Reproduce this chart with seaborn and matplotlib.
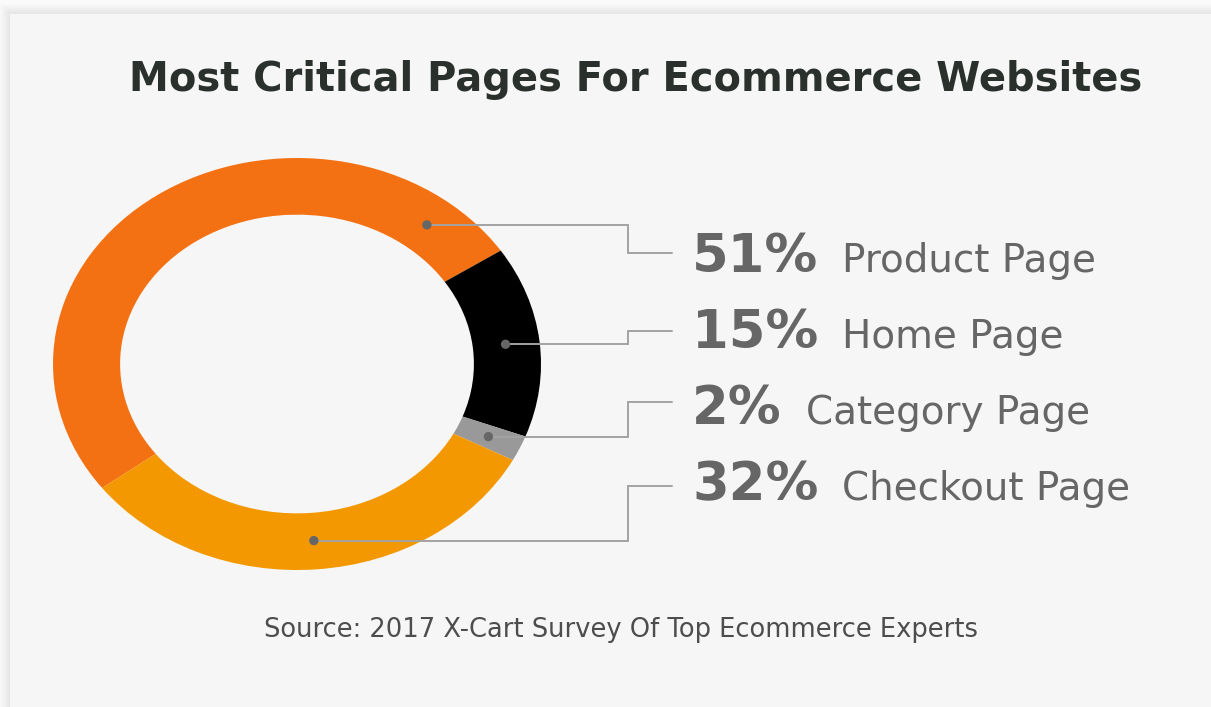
import numpy as np
import pandas as pd
import seaborn as sns
import matplotlib.pyplot as plt
from matplotlib.patches import Rectangle

# data
pages = ["Product Page", "Home Page", "Category Page", "Checkout Page"]
shares = [51, 15, 2, 32]
pct_labels = ["51%", "15%", "2%", "32%"]
colors = ["#f37112", "#000000", "#999999", "#f39800"]

title = "Most Critical Pages For Ecommerce Websites"
source = "Source: 2017 X-Cart Survey Of Top Ecommerce Experts"

W, H = 1211, 707

sns.set_theme(style="white")
plt.rcParams["font.family"] = ["DejaVu Sans"]

fig = plt.figure(figsize=(W / 100, H / 100), dpi=100)
fig.patch.set_facecolor("#fafafa")

# background card with a soft shadow
bg = fig.add_axes([0, 0, 1, 1], zorder=0)
bg.set_xlim(0, W)
bg.set_ylim(H, 0)
bg.axis("off")
for k in range(11):
    bg.add_patch(Rectangle((10 - k, 14 - k), W, H, facecolor="black", alpha=0.006, lw=0))
bg.add_patch(Rectangle((10, 14), W, H, facecolor="#f6f6f6", lw=0))

# donut, stretched horizontally like the original
ax = fig.add_axes([53 / W, (H - 570) / H, 488 / W, 412 / H], zorder=1)
wedges, _ = ax.pie(
    shares,
    colors=colors,
    startangle=217,
    counterclock=False,
    radius=1,
    wedgeprops=dict(width=0.275, linewidth=0),
)
ax.set_aspect("auto")
ax.set_xlim(-1, 1)
ax.set_ylim(-1, 1)
ax.axis("off")

# overlay in pixel coordinates for leaders and labels
ov = fig.add_axes([0, 0, 1, 1], zorder=2)
ov.patch.set_alpha(0)

# dots sit on the ring; product one near its clockwise end
anchor = [0.1, 0.5, 0.5, 0.5]
r_dot = 0.86
ang = np.deg2rad([w.theta1 + f * (w.theta2 - w.theta1) for w, f in zip(wedges, anchor)])
ring_pts = np.column_stack([r_dot * np.cos(ang), r_dot * np.sin(ang)])
ov.set_xlim(0, W)
ov.set_ylim(H, 0)
dots = ov.transData.inverted().transform(ax.transData.transform(ring_pts))
dots_df = pd.DataFrame({"x": dots[:, 0], "y": dots[:, 1], "page": pages})

row_y = [253, 331, 402, 486]
base_y = [272, 348, 424, 500]
elbow_x, end_x, text_x = 628, 672, 692

for (dx, dy), ry in zip(dots, row_y):
    ov.plot([dx, elbow_x, elbow_x, end_x], [dy, dy, ry, ry],
            color="#a3a3a3", lw=1.4, solid_joinstyle="miter", zorder=2)

sns.scatterplot(data=dots_df, x="x", y="y", ax=ov, color="#666666",
                s=45, edgecolor="none", legend=False, zorder=3)

for pct, page, by in zip(pct_labels, pages, base_y):
    t = ov.text(text_x, by, pct, fontsize=38, fontweight="bold",
                color="#666666", ha="left", va="baseline")
    ov.annotate(page, xy=(1, by), xycoords=(t, "data"), xytext=(24, 0),
                textcoords="offset pixels", fontsize=28, color="#666666",
                ha="left", va="baseline")

ov.text(636, 91, title, ha="center", va="baseline", fontsize=28.8,
        fontweight="bold", color="#2a302b")
ov.text(621, 637, source, ha="center", va="baseline", fontsize=18.5,
        color="#4d4d4d")

ov.set_xlim(0, W)
ov.set_ylim(H, 0)
ov.axis("off")

fig.savefig("out.png", dpi=100, facecolor=fig.get_facecolor())
